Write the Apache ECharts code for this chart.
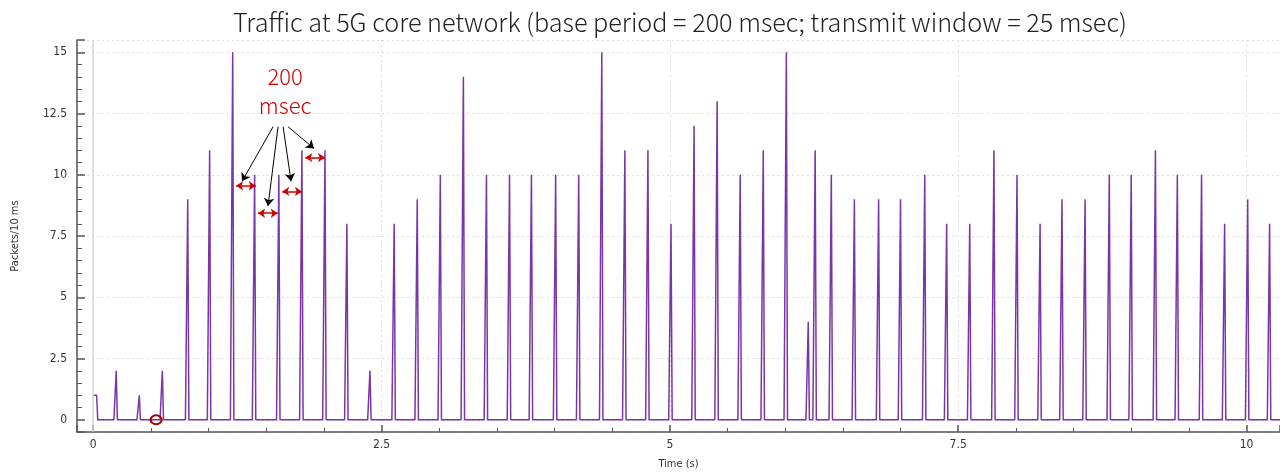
<!DOCTYPE html>
<html>
<head>
<meta charset="utf-8">
<script src="https://cdn.jsdelivr.net/npm/echarts@6/dist/echarts.min.js"></script>
<style>html,body{margin:0;padding:0;background:#fff}#c{width:1280px;height:475px}</style>
</head>
<body>
<div id="c"></div>
<script>
// ---- data ----
const titleText = 'Traffic at 5G core network (base period = 200 msec; transmit window = 25 msec)';
const xName = 'Time (s)';
const yName = 'Packets/10 ms';
const startLevel = 1;          // plateau at t = 0 .. 0.03 s
const startPlateauEnd = 0.03;
const spikeTimes = [0.2,0.4,0.6,0.82,1.01,1.21,1.4,1.61,1.81,2.01,
  2.2,2.4,2.61,2.81,3.01,3.21,3.41,3.61,3.8,4.01,
  4.21,4.41,4.61,4.81,5.01,5.21,5.41,5.61,5.81,6.01,
  6.2,6.26,6.4,6.6,6.81,7.0,7.21,7.4,7.6,7.81,
  8.01,8.21,8.4,8.6,8.81,9.0,9.21,9.4,9.61,9.81,
  10.01,10.2];
const spikeValues = [2,1,2,9,11,15,10,10,11,11,
  8,2,8,9,10,14,10,10,10,10,
  10,15,11,11,8,12,13,10,11,15,
  4,11,10,9,9,9,10,8,8,11,
  10,8,9,9,10,10,11,10,10,8,
  9,8];
const xMin = -0.14, xMax = 10.29, yMin = -0.5, yMax = 15.5;
// annotation (data coordinates)
const annotText = '200\nmsec';
const annotPos = [1.665, 13.4];
const redArrows = [
  [[1.24, 9.55], [1.41, 9.55]],
  [[1.43, 8.43], [1.60, 8.43]],
  [[1.64, 9.32], [1.81, 9.32]],
  [[1.84, 10.7], [2.01, 10.7]]
];
const blackArrows = [
  [[1.560, 11.96], [1.291, 9.73]],
  [[1.603, 11.96], [1.516, 8.72]],
  [[1.647, 11.96], [1.716, 9.73]],
  [[1.690, 11.96], [1.915, 11.07]]
];
const circleMark = [0.546, 0];

// ---- build line (10 ms samples: rise over 20 ms, fall over 10 ms) ----
const lineData = [[0, startLevel], [startPlateauEnd, startLevel], [startPlateauEnd + 0.01, 0]];
spikeTimes.forEach((t, i) => {
  lineData.push([+(t - 0.02).toFixed(3), 0]);
  lineData.push([t, spikeValues[i]]);
  lineData.push([+(t + 0.01).toFixed(3), 0]);
});
lineData.push([xMax, 0]);

const labelFont = "'Liberation Sans Narrow','DejaVu Sans Condensed','Liberation Sans',sans-serif";
const titleFont = "'Noto Sans CJK JP','Noto Sans',sans-serif";

const chart = echarts.init(document.getElementById('c'), null, {renderer: 'canvas'});
chart.setOption({
  animation: false,
  backgroundColor: '#fff',
  title: {
    text: titleText, left: 228, top: 5,
    textStyle: {fontFamily: titleFont, fontSize: 25.2, fontWeight: 300, color: '#222'}
  },
  grid: {left: 77, right: 0, top: 40, bottom: 40},
  xAxis: {
    type: 'value', min: xMin, max: xMax, minInterval: 2.5, maxInterval: 2.5, splitNumber: 4,
    name: xName, nameLocation: 'middle', nameGap: 27,
    nameTextStyle: {fontFamily: labelFont, fontSize: 11, color: '#333'},
    axisLine: {show: true, onZero: false, lineStyle: {color: '#555', width: 1.5}},
    axisTick: {show: true, inside: true, length: 7, lineStyle: {color: '#555', width: 1.5}},
    minorTick: {show: true, splitNumber: 5, length: 4, lineStyle: {color: '#555', width: 1}},
    axisLabel: {showMinLabel: false, showMaxLabel: false, margin: 7, fontFamily: labelFont, fontSize: 12, color: '#333'},
    splitLine: {show: true, lineStyle: {color: '#ddd', type: [2, 3], width: 1}}
  },
  yAxis: {
    type: 'value', min: yMin, max: yMax, minInterval: 2.5, maxInterval: 2.5, splitNumber: 6,
    name: yName, nameLocation: 'middle', nameGap: 56, nameRotate: 90,
    nameTextStyle: {fontFamily: labelFont, fontSize: 11, color: '#333'},
    axisLine: {show: true, onZero: false, lineStyle: {color: '#555', width: 1.5}},
    axisTick: {show: true, inside: true, length: 8, lineStyle: {color: '#555', width: 1.5}},
    minorTick: {show: true, splitNumber: 5, length: 5, lineStyle: {color: '#555', width: 1}},
    axisLabel: {showMinLabel: false, showMaxLabel: false, margin: 10, fontFamily: labelFont, fontSize: 12, color: '#333'},
    splitLine: {show: true, lineStyle: {color: '#ddd', type: [2, 3], width: 1}}
  },
  series: [
    {
      type: 'line', data: [], silent: true,
      markLine: {
        silent: true, symbol: 'none', animation: false,
        label: {show: false},
        lineStyle: {color: '#d6d6d6', type: 'solid', width: 1.5},
        data: [{xAxis: 0}]
      }
    },
    {
      type: 'line', data: lineData, showSymbol: false, silent: true,
      lineStyle: {color: '#7a35a8', width: 1.5},
      itemStyle: {color: '#7a35a8'},
      markPoint: {
        silent: true, animation: false,
        data: [
          {coord: circleMark, symbol: 'circle', symbolSize: [11, 9],
           itemStyle: {color: 'rgba(0,0,0,0)', borderColor: '#aa0000', borderWidth: 2},
           label: {show: false}},
          {coord: annotPos, symbol: 'circle', symbolSize: 0,
           label: {show: true, position: 'inside', formatter: annotText,
             fontFamily: titleFont, fontSize: 22, fontWeight: 300, lineHeight: 29, color: '#cc0000'}}
        ]
      },
      markLine: {
        silent: true, animation: false,
        symbol: ['arrow', 'arrow'], symbolSize: [7, 7],
        label: {show: false},
        lineStyle: {color: '#cc0000', type: 'solid', width: 1.5},
        data: redArrows.map(a => [{coord: a[0]}, {coord: a[1]}])
      }
    },
    {
      type: 'line', data: [], silent: true,
      markLine: {
        silent: true, animation: false,
        symbol: ['none', 'arrow'], symbolSize: 8,
        label: {show: false},
        lineStyle: {color: '#000', type: 'solid', width: 1},
        data: blackArrows.map(a => [{coord: a[0]}, {coord: a[1]}])
      }
    }
  ]
});
</script>
</body>
</html>
